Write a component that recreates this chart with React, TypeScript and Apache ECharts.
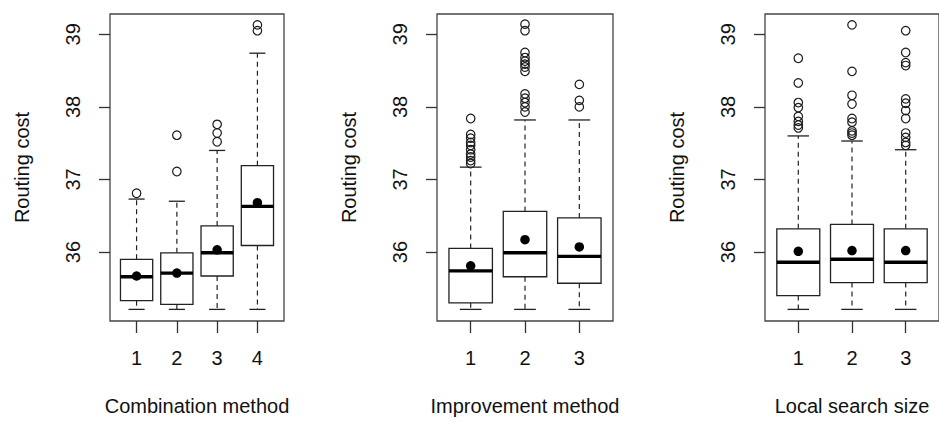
import React, { useEffect, useRef } from "react";
import * as echarts from "echarts";

const Y_MIN = 35.05;
const Y_MAX = 39.28;
const yTicks = [36, 37, 38, 39];

// Panel 1: Combination method
const comboCats = [1, 2, 3, 4];
const comboStats = [
  [35.21, 35.33, 35.66, 35.9, 36.73],
  [35.21, 35.28, 35.71, 35.99, 36.7],
  [35.21, 35.67, 35.99, 36.36, 37.4],
  [35.21, 36.09, 36.63, 37.19, 38.74],
];
const comboMeans = [35.67, 35.71, 36.03, 36.68];
const comboOutliers = [
  [1, 36.81],
  [2, 37.11], [2, 37.61],
  [3, 37.52], [3, 37.64], [3, 37.76],
  [4, 39.05], [4, 39.13],
];

// Panel 2: Improvement method
const improveCats = [1, 2, 3];
const improveStats = [
  [35.21, 35.3, 35.74, 36.05, 37.17],
  [35.21, 35.66, 35.99, 36.56, 37.82],
  [35.21, 35.57, 35.94, 36.47, 37.82],
];
const improveMeans = [35.81, 36.17, 36.07];
const improveOutliers = [
  [1, 37.22], [1, 37.26], [1, 37.31], [1, 37.35], [1, 37.41], [1, 37.47], [1, 37.51], [1, 37.57], [1, 37.62], [1, 37.84],
  [2, 37.93], [2, 38.0], [2, 38.06], [2, 38.12], [2, 38.18], [2, 38.49], [2, 38.55], [2, 38.59], [2, 38.63], [2, 38.68], [2, 38.75], [2, 39.05], [2, 39.14],
  [3, 38.0], [3, 38.09], [3, 38.31],
];

// Panel 3: Local search size
const localCats = [1, 2, 3];
const localStats = [
  [35.21, 35.4, 35.86, 36.32, 37.6],
  [35.21, 35.58, 35.9, 36.38, 37.53],
  [35.21, 35.58, 35.86, 36.32, 37.41],
];
const localMeans = [36.01, 36.02, 36.02];
const localOutliers = [
  [1, 37.71], [1, 37.75], [1, 37.8], [1, 37.87], [1, 37.99], [1, 38.06], [1, 38.33], [1, 38.67],
  [2, 37.61], [2, 37.64], [2, 37.67], [2, 37.79], [2, 37.84], [2, 38.04], [2, 38.16], [2, 38.49], [2, 39.13],
  [3, 37.47], [3, 37.51], [3, 37.58], [3, 37.64], [3, 37.84], [3, 37.95], [3, 38.05], [3, 38.11], [3, 38.57], [3, 38.61], [3, 38.75], [3, 39.05],
];

const FONT = "'Liberation Sans', Arial, sans-serif";
const LINE = "#222";
const TEXT = "#111";

const panels = [
  { title: "Combination method", cats: comboCats, stats: comboStats, means: comboMeans, outliers: comboOutliers, left: 110, width: 174 },
  { title: "Improvement method", cats: improveCats, stats: improveStats, means: improveMeans, outliers: improveOutliers, left: 437, width: 176 },
  { title: "Local search size", cats: localCats, stats: localStats, means: localMeans, outliers: localOutliers, left: 765, width: 176 },
];

function renderBox(params: any, api: any) {
  const x = api.value(0);
  const low = api.value(1);
  const q1 = api.value(2);
  const med = api.value(3);
  const q3 = api.value(4);
  const high = api.value(5);
  const hw = 0.4;
  const sw = 0.2;
  const c = (a: number, b: number) => api.coord([a, b]);
  const [xl, yq3] = c(x - hw, q3);
  const [xr, yq1] = c(x + hw, q1);
  const [xc, ymed] = c(x, med);
  const [, yLow] = c(x, low);
  const [, yHigh] = c(x, high);
  const [sl] = c(x - sw, low);
  const [sr] = c(x + sw, low);
  const dashed = { stroke: LINE, lineWidth: 1.2, lineDash: [5, 4] };
  const solid = { stroke: LINE, lineWidth: 1.3 };
  return {
    type: "group",
    children: [
      { type: "line", shape: { x1: xc, y1: yq3, x2: xc, y2: yHigh }, style: dashed },
      { type: "line", shape: { x1: xc, y1: yq1, x2: xc, y2: yLow }, style: dashed },
      { type: "line", shape: { x1: sl, y1: yHigh, x2: sr, y2: yHigh }, style: solid },
      { type: "line", shape: { x1: sl, y1: yLow, x2: sr, y2: yLow }, style: solid },
      { type: "rect", shape: { x: xl, y: yq3, width: xr - xl, height: yq1 - yq3 }, style: { fill: "#fff", stroke: LINE, lineWidth: 1.3 } },
      { type: "line", shape: { x1: xl, y1: ymed, x2: xr, y2: ymed }, style: { stroke: "#000", lineWidth: 3.4 } },
    ],
  };
}

export default function App() {
  const ref = useRef<HTMLDivElement>(null);
  useEffect(() => {
    if (!ref.current) return;
    const chart = echarts.init(ref.current, null, { renderer: "svg" });
    const grid: any[] = [];
    const xAxis: any[] = [];
    const yAxis: any[] = [];
    const series: any[] = [];
    panels.forEach((p, i) => {
      const n = p.cats.length;
      const ext = n * 0.04;
      grid.push({ left: p.left, width: p.width, top: 14, height: 307, show: true, borderColor: "#444", borderWidth: 1.3, backgroundColor: "transparent" });
      xAxis.push({
        type: "value", gridIndex: i, min: 0.5 - ext, max: n + 0.5 + ext,
        name: p.title, nameLocation: "middle", nameGap: 75,
        nameTextStyle: { fontFamily: FONT, fontSize: 20, color: TEXT },
        axisLine: { show: false, onZero: false },
        axisTick: { show: true, length: 12, customValues: p.cats, lineStyle: { color: "#333", width: 1.3 } },
        axisLabel: { show: true, margin: 27, customValues: p.cats, fontFamily: FONT, fontSize: 20, color: TEXT },
        splitLine: { show: false },
      });
      yAxis.push({
        type: "value", gridIndex: i, min: Y_MIN, max: Y_MAX,
        name: "Routing cost", nameLocation: "middle", nameGap: 78, nameRotate: 90,
        nameTextStyle: { fontFamily: FONT, fontSize: 20, color: TEXT },
        axisLine: { show: false, onZero: false },
        axisTick: { show: true, length: 11, customValues: yTicks, lineStyle: { color: "#333", width: 1.3 } },
        axisLabel: { show: true, rotate: 90, margin: 27, customValues: yTicks, fontFamily: FONT, fontSize: 20, color: TEXT },
        splitLine: { show: false },
      });
      series.push({
        type: "custom", xAxisIndex: i, yAxisIndex: i, renderItem: renderBox, z: 2,
        data: p.cats.map((c, k) => [c, ...p.stats[k]]),
      });
      series.push({
        type: "scatter", xAxisIndex: i, yAxisIndex: i, symbol: "circle", symbolSize: 8.5, z: 3,
        itemStyle: { color: "transparent", borderColor: "#1a1a1a", borderWidth: 1.2, opacity: 1 },
        emphasis: { disabled: true },
        data: p.outliers,
      });
      series.push({
        type: "scatter", xAxisIndex: i, yAxisIndex: i, symbol: "circle", symbolSize: 9.5, z: 4,
        itemStyle: { color: "#000", opacity: 1 },
        emphasis: { disabled: true },
        data: p.cats.map((c, k) => [c, p.means[k]]),
      });
    });
    chart.setOption({ animation: false, backgroundColor: "#fff", grid, xAxis, yAxis, series });
    return () => chart.dispose();
  }, []);
  return <div ref={ref} style={{ position: "fixed", left: 0, top: 0, width: 939, height: 423, background: "#fff" }} />;
}
